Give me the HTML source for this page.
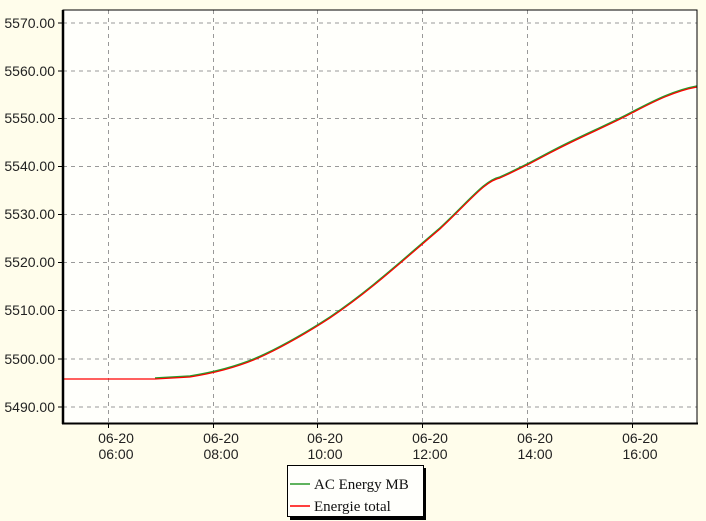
<!DOCTYPE html>
<html><head><style>
body{margin:0;background:#fffdeb;}
svg{display:block;font-family:"Liberation Sans",sans-serif;}
</style></head><body>
<svg width="706" height="521" viewBox="0 0 706 521">
<rect x="0" y="0" width="706" height="521" fill="#fffdeb"/>
<rect x="63" y="10" width="634" height="413" fill="#fffffb"/>
<g stroke="#999" stroke-dasharray="4,4" stroke-width="1">
<line x1="63" x2="697" y1="23" y2="23"/><line x1="63" x2="697" y1="71" y2="71"/>
<line x1="63" x2="697" y1="118.5" y2="118.5"/><line x1="63" x2="697" y1="166.5" y2="166.5"/>
<line x1="63" x2="697" y1="214.5" y2="214.5"/><line x1="63" x2="697" y1="262.5" y2="262.5"/>
<line x1="63" x2="697" y1="310.5" y2="310.5"/><line x1="63" x2="697" y1="359" y2="359"/>
<line x1="63" x2="697" y1="407" y2="407"/>
<line y1="10" y2="423" x1="108.5" x2="108.5"/><line y1="10" y2="423" x1="213.5" x2="213.5"/>
<line y1="10" y2="423" x1="317.5" x2="317.5"/><line y1="10" y2="423" x1="422.5" x2="422.5"/>
<line y1="10" y2="423" x1="527.5" x2="527.5"/><line y1="10" y2="423" x1="632.5" x2="632.5"/>
</g>
<path fill="none" stroke="#2a9a2a" stroke-width="1.6" d="M155,378 L190,376 C215,372 240,366 265,354 C290,342 310,330 330,317 C370,290 400,262 440,228 C470,200 485,180 500,177 C520,168 530,163 550,152 C580,136 610,124 632,112 C655,100 675,90 697,86"/>
<path fill="none" stroke="#ff0000" stroke-width="1.2" d="M63,379 L155,379 L190,377 C215,373 240,367 265,355 C290,343 310,331 330,318 C370,291 400,263 440,229 C470,201 485,181 500,178 C520,169 530,164 550,153 C580,137 610,125 632,113 C655,101 675,91 697,87"/>
<rect x="63" y="10" width="634" height="413" fill="none" stroke="#000" stroke-width="1"/>
<line x1="63" y1="10" x2="63" y2="424" stroke="#000" stroke-width="2.5"/>
<line x1="62" y1="423.5" x2="698" y2="423.5" stroke="#000" stroke-width="2"/>
<g stroke="#000"><line x1="58" x2="63" y1="23" y2="23"/><line x1="58" x2="63" y1="71" y2="71"/><line x1="58" x2="63" y1="118.5" y2="118.5"/><line x1="58" x2="63" y1="166.5" y2="166.5"/><line x1="58" x2="63" y1="214.5" y2="214.5"/><line x1="58" x2="63" y1="262.5" y2="262.5"/><line x1="58" x2="63" y1="310.5" y2="310.5"/><line x1="58" x2="63" y1="359" y2="359"/><line x1="58" x2="63" y1="407" y2="407"/>
<line y1="423" y2="428" x1="108.5" x2="108.5"/><line y1="423" y2="428" x1="213.5" x2="213.5"/><line y1="423" y2="428" x1="317.5" x2="317.5"/><line y1="423" y2="428" x1="422.5" x2="422.5"/><line y1="423" y2="428" x1="527.5" x2="527.5"/><line y1="423" y2="428" x1="632.5" x2="632.5"/></g>
<g font-size="14" fill="#222" text-anchor="end">
<text x="55" y="28">5570.00</text><text x="55" y="76">5560.00</text><text x="55" y="123">5550.00</text><text x="55" y="171">5540.00</text><text x="55" y="219">5530.00</text><text x="55" y="267">5520.00</text><text x="55" y="315">5510.00</text><text x="55" y="364">5500.00</text><text x="55" y="412">5490.00</text>
</g>
<g font-size="14" fill="#222" text-anchor="middle">
<text x="116" y="443">06-20</text><text x="116" y="459">06:00</text>
<text x="221" y="443">06-20</text><text x="221" y="459">08:00</text>
<text x="325" y="443">06-20</text><text x="325" y="459">10:00</text>
<text x="430" y="443">06-20</text><text x="430" y="459">12:00</text>
<text x="535" y="443">06-20</text><text x="535" y="459">14:00</text>
<text x="640" y="443">06-20</text><text x="640" y="459">16:00</text>
</g>
<rect x="290" y="468" width="136" height="52" fill="#000"/>
<rect x="287.5" y="465.5" width="136" height="51" fill="#fffffb" stroke="#000"/>
<line x1="290" x2="310" y1="484" y2="484" stroke="#2a9a2a" stroke-width="1.5"/>
<line x1="290" x2="310" y1="506" y2="506" stroke="#f00" stroke-width="1.5"/>
<g font-family="Liberation Serif,serif" font-size="15" fill="#111">
<text x="314" y="489">AC Energy MB</text><text x="314" y="511">Energie total</text>
</g>
</svg>
</body></html>
